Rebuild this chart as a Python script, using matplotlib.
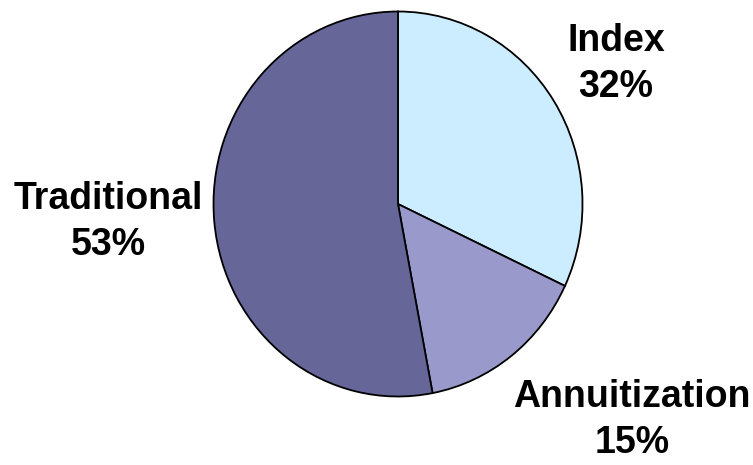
import matplotlib
matplotlib.use("Agg")
import matplotlib.pyplot as plt

labels = ["Index", "Annuitization", "Traditional"]
shares = [32, 15, 53]
colors = ["#CCECFF", "#9999CC", "#666699"]

# label centres in pixels (x, y from top)
label_pos = [(616, 64), (632, 420), (108, 222)]

W, H = 753, 465
fig = plt.figure(figsize=(W / 100, H / 100), dpi=100)
ax = fig.add_axes([0, 0, 1, 1])

ax.pie(shares, colors=colors, startangle=90, counterclock=False,
       wedgeprops=dict(edgecolor="black", linewidth=1.3))

# pie is slightly taller than wide in the reference
cx, cy, rx, ry = 398, 204, 184.5, 192.5
ax.set_aspect("auto")
ax.set_xlim(-cx / rx, (W - cx) / rx)
ax.set_ylim(-(H - cy) / ry, cy / ry)
ax.axis("off")

for lab, val, (px, py) in zip(labels, shares, label_pos):
    fig.text(px / W, 1 - py / H, f"{lab}\n{val}%", ha="center", va="center",
             fontsize=27, fontweight="bold", family="Liberation Sans",
             linespacing=1.38)

fig.savefig("out.png", dpi=100)
